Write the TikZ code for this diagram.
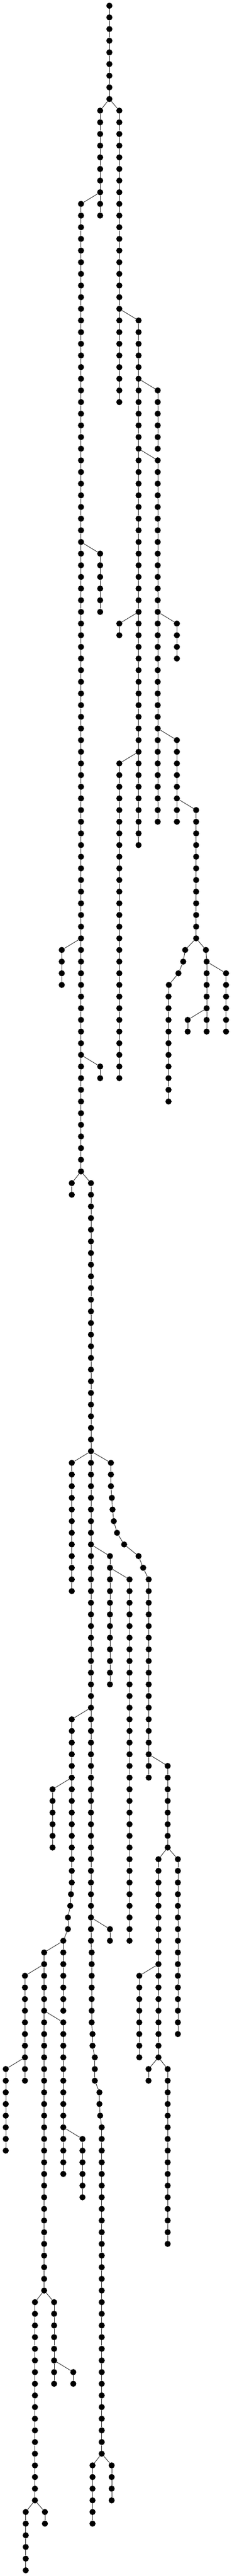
\documentclass[tikz,border=0pt]{standalone}
\newcommand\dotrun[5]{%
  \foreach \l [remember=\l as \lp (initially 0)] in {#4,...,#5} {
    \node [dot] (#1\l) at (#3,\l) {};
    \ifnum\lp=0 \draw [edge] (#2) -- (#1\l); \else \draw [edge] (#1\lp) -- (#1\l); \fi
  }}
\newcommand\dotdrift[3]{%
  \foreach \l/\xx [remember=\l as \lp (initially 0)] in {#3} {
    \node [dot] (#1\l) at (\xx,\l) {};
    \ifnum\lp=0 \draw [edge] (#2) -- (#1\l); \else \draw [edge] (#1\lp) -- (#1\l); \fi
  }}
\begin{document}
\begin{tikzpicture}[x=1pt, y=-20.27pt,
    dot/.style={circle, fill=black, inner sep=0pt, minimum size=10.6pt},
    edge/.style={draw=black!80, line width=0.9pt}]
    \useasboundingbox (0,-0.4933) rectangle (403,220.4933);
    \node [dot] (r0) at (190,0) {};
    \dotrun{r}{r0}{190}{1}{8}
    \dotrun{a}{r8}{174}{9}{18}
    \dotrun{b}{r8}{207.3}{9}{34}
    \dotrun{c}{a16}{140.7}{17}{100}
    \dotrun{d}{b26}{240.7}{27}{72}
    \dotrun{e}{d32}{274}{33}{38}
    \dotrun{f}{d38}{274}{39}{70}
    \dotrun{g}{c46}{174}{47}{52}
    \dotrun{h}{d52}{207.3}{53}{54}
    \dotrun{i}{f52}{307.3}{53}{56}
    \dotrun{j}{f62}{307.3}{63}{70}
    \dotrun{k}{d64}{207.3}{65}{92}
    \dotrun{m}{j68}{340.7}{69}{80}
    \dotrun{n}{c80}{107.3}{81}{84}
    \dotrun{o}{c90}{174}{91}{92}
    \dotdrift{p}{m80}{81/321.7,82/318.3,83/310,84/293.3}
    \dotrun{p}{p84}{292.7}{85}{94}
    \dotdrift{q}{m80}{81/357.7}
    \dotrun{q}{q81}{359}{82}{88}
    \dotrun{s}{q82}{392.7}{83}{88}
    \dotrun{t}{q86}{326}{87}{88}
    \dotrun{u}{c100}{124.7}{101}{102}
    \dotrun{v}{c100}{158}{101}{166}
    \dotdrift{v}{v166}{167/159.3,168/159.3,169/159.3,170/159.3,171/159.3,172/159.3,173/159.3,174/160.7,175/160.7,176/164.7,177/164.7,178/164.7,179/172.7,180/172.7,181/174}
    \dotrun{v}{v181}{176.7}{182}{210}
    \dotrun{w}{v124}{124.7}{125}{136}
    \dotdrift{x}{v124}{125/192.7,126/192.7,127/192.7,128/194.3,129/195.5,130/197.7,131/203.3,132/215.7,133/240.7,134/248.7}
    \dotrun{x}{x134}{258.3}{135}{152}
    \dotrun{y}{v132}{191}{133}{144}
    \dotrun{z}{y134}{225}{135}{166}
    \dotrun{ba}{v146}{124.7}{147}{161}
    \dotdrift{ba}{ba161}{162/123.3,163/122,164/118,165/118,166/110}
    \dotrun{ba}{ba166}{110}{167}{172}
    \dotrun{bb}{ba152}{91.3}{153}{158}
    \dotrun{bc}{v164}{191}{165}{166}
    \dotrun{bd}{x150}{291.3}{151}{158}
    \dotrun{be}{bd158}{275.3}{159}{176}
    \dotrun{bf}{bd158}{309}{159}{174}
    \dotrun{bg}{ba166}{76.7}{167}{196}
    \dotrun{bh}{bg168}{43.3}{169}{178}
    \dotrun{bi}{bh176}{10}{177}{184}
    \dotrun{bj}{bg172}{110}{173}{186}
    \dotrun{bk}{bj182}{143.3}{183}{188}
    \dotrun{bl}{be168}{242}{169}{176}
    \dotrun{bm}{be176}{258}{177}{178}
    \dotrun{bn}{be176}{291.3}{177}{192}
    \dotrun{bo}{bg196}{60.7}{197}{214}
    \dotrun{bp}{bg196}{94}{197}{204}
    \dotrun{bq}{bp202}{127.3}{203}{204}
    \dotrun{br}{bo214}{44.7}{215}{220}
    \dotrun{bs}{bo214}{78}{215}{216}
    \dotrun{bt}{v210}{160.7}{211}{216}
    \dotrun{bu}{v210}{194}{211}{214}
\end{tikzpicture}
\end{document}
